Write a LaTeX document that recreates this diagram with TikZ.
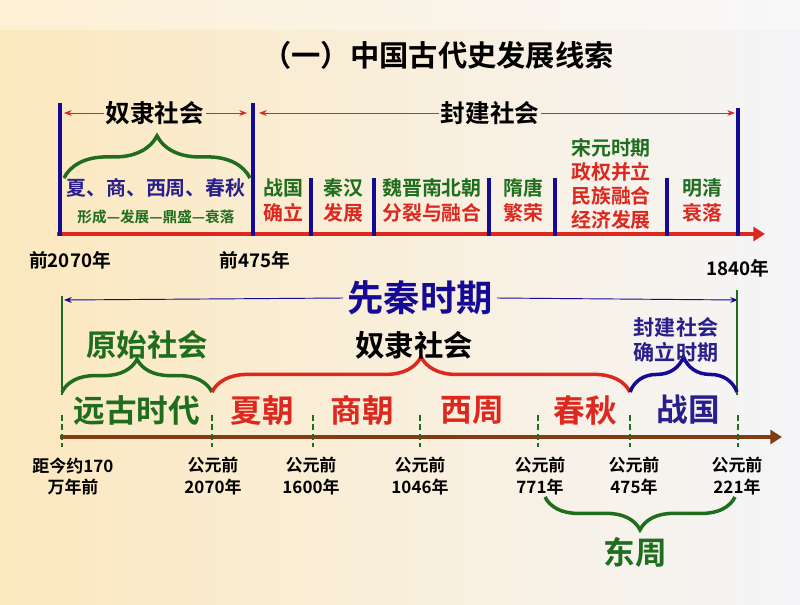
\documentclass[tikz,border=0pt]{standalone}
\usepackage{fontspec}
\setmainfont{Noto Sans CJK SC}[BoldFont={Noto Sans CJK SC Bold}]
\usetikzlibrary{decorations.pathreplacing,arrows.meta}
\definecolor{navy}{RGB}{40,30,140}
\definecolor{bar}{RGB}{20,10,150}
\definecolor{gr}{RGB}{30,110,30}
\definecolor{rd}{RGB}{220,40,30}
\definecolor{br}{RGB}{130,60,20}
\begin{document}
\begin{tikzpicture}[x=0.03cm,y=-0.03cm,
  t/.style={font=\bfseries\fontsize{17}{19}\selectfont,inner sep=1pt,align=center},
  big/.style={font=\bfseries\fontsize{27}{29}\selectfont,inner sep=1pt},
  dt/.style={font=\bfseries\fontsize{14.5}{18}\selectfont,align=center,inner sep=1pt},
  vbar/.style={bar,line width=4pt},
  brc/.style={decorate,decoration={brace,amplitude=#1},line width=3pt},
  tick/.style={gr,line width=2pt,dashed,dash pattern=on 5pt off 3pt}]
\shade[left color={rgb,255:red,252;green,232;blue,190},right color={rgb,255:red,245;green,245;blue,248}] (0,0) rectangle (800,604);
\fill[white,opacity=0.35] (0,0) rectangle (800,30);
\useasboundingbox (0,0) rectangle (800,604);
% title
\node[font=\bfseries\fontsize{25}{27}\selectfont] (title) at (438,55) {（一）中国古代史发展线索};
% top axis
\coordinate (a0) at (57,234); \coordinate (a1) at (765,234);
\draw[rd,line width=3pt,-{Triangle[length=10pt,width=12pt]}] (a0) -- (a1);
\foreach \n/\x/\y in {b1/60/103,b2/253/103,b3/738/108}{\coordinate (\n t) at (\x,\y); \coordinate (\n b) at (\x,236); \draw[vbar] (\n t)--(\n b);}
\foreach \n/\x in {s1/311,s2/374,s3/489,s4/555,s5/667}{\coordinate (\n t) at (\x,178); \coordinate (\n b) at (\x,236); \draw[vbar,line width=3pt] (\n t)--(\n b);}
\node[t,font=\bfseries\fontsize{21}{23}\selectfont] (ns) at (155,113) {奴隶社会};
\draw[rd,thick,-{Stealth}] (ns.west) -- (64,113);
\draw[rd,thick,-{Stealth}] (ns.east) -- (247,113);
\node[t,font=\bfseries\fontsize{21}{23}\selectfont] (fj) at (490,113) {封建社会};
\draw[rd,thick,-{Stealth}] (fj.west) -- (259,113);
\draw[rd,thick,-{Stealth}] (fj.east) -- (735,113);
\draw[gr,brc=36pt] (64,178) -- (250,178);
\node[t,text=navy] (xs) at (156,188) {夏、商、西周、春秋};
\node[t,text=gr,font=\bfseries\fontsize{12.5}{14}\selectfont] (xc) at (156,217) {形成—发展—鼎盛—衰落};
\node[t,text=gr] (zg) at (283,188) {战国}; \node[t,text=rd] (zg2) at (283,213) {确立};
\node[t,text=gr] (qh) at (343,188) {秦汉}; \node[t,text=rd] (qh2) at (343,213) {发展};
\node[t,text=gr] (wj) at (432,188) {魏晋南北朝}; \node[t,text=rd] (wj2) at (432,213) {分裂与融合};
\node[t,text=gr] (st) at (523,188) {隋唐}; \node[t,text=rd] (st2) at (523,213) {繁荣};
\node[t,text=gr] (sy) at (611,148) {宋元时期};
\node[t,text=rd] (sy2) at (611,172) {政权并立};
\node[t,text=rd] (sy3) at (611,196) {民族融合};
\node[t,text=rd] (sy4) at (611,220) {经济发展};
\node[t,text=gr] (mq) at (702,188) {明清}; \node[t,text=rd] (mq2) at (702,213) {衰落};
\node[dt,font=\bfseries\fontsize{16}{18}\selectfont] (d1) at (70,260) {前2070年};
\node[dt,font=\bfseries\fontsize{16}{18}\selectfont] (d2) at (255,260) {前475年};
\node[dt,font=\bfseries\fontsize{16}{18}\selectfont] (d3) at (738,268) {1840年};
% bottom
\node[font=\bfseries\fontsize{31}{33}\selectfont,text=bar] (xq) at (420,298) {先秦时期};
\coordinate (L) at (64,300); \coordinate (R) at (738,300);
\draw[bar,thick,-{Stealth}] (xq.west) -- (L);
\draw[bar,thick,-{Stealth}] (xq.east) -- (R);
\draw[gr,line width=2.5pt] (62,296) -- (62,395);
\draw[gr,line width=2.5pt] (737,290) -- (737,395);
\coordinate (ax0) at (60,437); \coordinate (ax1) at (782,437);
\draw[br,line width=3.5pt,-{Triangle[length=10pt,width=12pt]}] (ax0) -- (ax1);
\foreach \x in {62,212,313,420,538,630,738}{\draw[tick] (\x,415) -- (\x,447);}
\draw[gr,brc=28pt] (62,392) -- (212,392);
\draw[rd,brc=30pt] (212,392) -- (630,392);
\draw[bar,brc=30pt] (630,392) -- (737,392);
\node[big,text=gr,font=\bfseries\fontsize{26}{28}\selectfont] (ys) at (147,345) {原始社会};
\node[big,font=\bfseries\fontsize{25}{27}\selectfont] (nl) at (414,345) {奴隶社会};
\node[t,text=navy,font=\bfseries\fontsize{18}{22}\selectfont] (fj2) at (676,340) {封建社会\\确立时期};
\node[big,text=gr] (yg) at (137,410) {远古时代};
\node[big,text=rd] (xz) at (262,410) {夏朝};
\node[big,text=rd] (sz) at (362,410) {商朝};
\node[big,text=rd] (xzh) at (472,410) {西周};
\node[big,text=rd] (cq) at (585,410) {春秋};
\node[big,text=navy] (zgb) at (688,410) {战国};
\node[dt] (e1) at (73,476) {距今约170\\万年前};
\node[dt] (e2) at (213,476) {公元前\\2070年};
\node[dt] (e3) at (311,476) {公元前\\1600年};
\node[dt] (e4) at (420,476) {公元前\\1046年};
\node[dt] (e5) at (540,476) {公元前\\771年};
\node[dt] (e6) at (634,476) {公元前\\475年};
\node[dt] (e7) at (737,476) {公元前\\221年};
\draw[gr,brc=28pt] (735,497) -- (545,497);
\node[big,text=gr] (dz) at (635,552) {东周};
\end{tikzpicture}
\end{document}
